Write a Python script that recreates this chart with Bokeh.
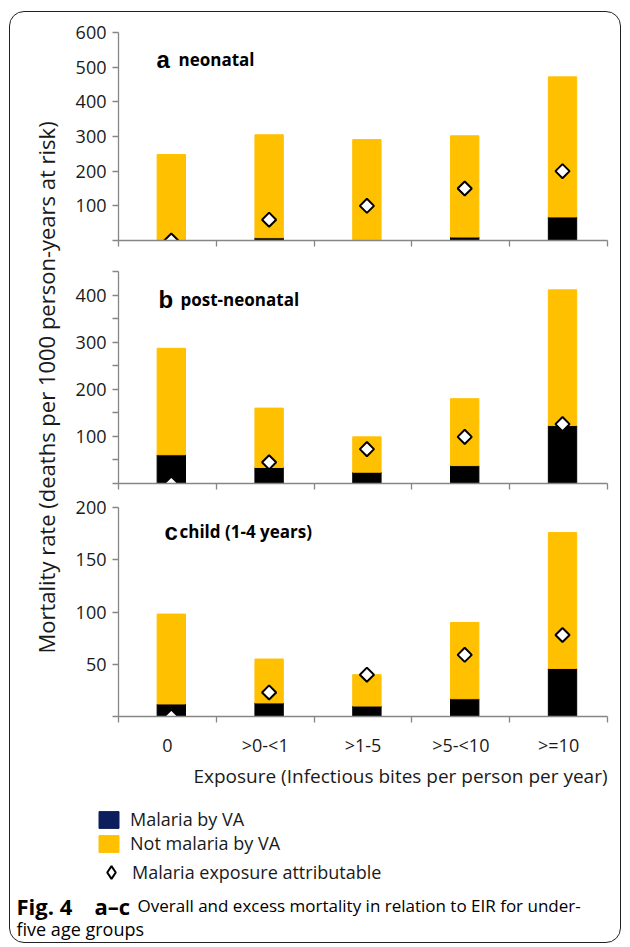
import math
from bokeh.plotting import figure
from bokeh.models import (Range1d, LinearAxis, FixedTicker, Label,
                          Legend, LegendItem, ColumnDataSource)
from bokeh.layouts import column, row
from bokeh.embed import file_html
from bokeh.resources import INLINE
from bokeh.transform import dodge

# ---------------- data ----------------
exposure = ["0", ">0-<1", ">1-5", ">5-<10", ">=10"]

neonatal_malaria = [0, 8, 0, 10, 68]
neonatal_not_malaria = [248, 297, 291, 292, 404]
neonatal_attributable = [0, 60, 100, 150, 200]

post_malaria = [61, 34, 24, 38, 123]
post_not_malaria = [226, 126, 75, 142, 288]
post_attributable = [0, 45, 73, 99, 126]

child_malaria = [12, 13, 10, 17, 46]
child_not_malaria = [86, 42, 30, 73, 130]
child_attributable = [0, 23, 40, 59, 78]

ticks_a = [0, 100, 200, 300, 400, 500, 600]
labels_a = [100, 200, 300, 400, 500, 600]
ticks_b = [0, 50, 100, 150, 200, 250, 300, 350, 400, 450]
labels_b = [100, 200, 300, 400]
ticks_c = [0, 50, 100, 150, 200]
labels_c = [50, 100, 150, 200]

legend_labels = ["Malaria by VA", "Not malaria by VA", "Malaria exposure attributable"]

# ---------------- style ----------------
FONT = "Open Sans"
AXIS_GREY = "#868686"
TEXT = "#1a1a1a"
YELLOW = "#FFC000"
BLACK = "#000000"
NAVY = "#0C1F5C"
PANEL_W = 556

n_cat = len(exposure)
slot_centers = [i + 0.5 for i in range(n_cat)]      # category slot centres
slot_bounds = list(range(n_cat + 1))                # category slot boundaries


def base_fig(**kw):
    return figure(output_backend="svg", toolbar_location=None,
                  outline_line_color=None, background_fill_alpha=0,
                  border_fill_alpha=0, **kw)


def make_panel(letter, name, malaria, not_malaria, attributable, ymax,
               ticks, labelled, height, top, bottom, show_x_labels,
               letter_x, name_x, label_y):
    p = base_fig(width=PANEL_W, height=height,
                 x_range=Range1d(0, n_cat), y_range=Range1d(0, ymax),
                 x_axis_type=None, y_axis_type=None,
                 min_border_left=54, min_border_right=13,
                 min_border_top=top, min_border_bottom=bottom)
    xaxis = LinearAxis(
        ticker=FixedTicker(ticks=slot_centers if show_x_labels else [],
                           minor_ticks=slot_bounds),
        major_label_overrides={c: f for c, f in zip(slot_centers, exposure)},
        axis_line_color=AXIS_GREY, axis_line_width=1.3,
        major_tick_line_color=None, major_tick_out=0, major_tick_in=0,
        minor_tick_line_color=AXIS_GREY, minor_tick_out=6, minor_tick_in=0,
        minor_tick_line_width=1.3,
        major_label_text_font=FONT, major_label_text_font_size="18px",
        major_label_text_color=TEXT, major_label_standoff=10)
    p.add_layout(xaxis, "below")

    yaxis = LinearAxis(
        ticker=FixedTicker(ticks=ticks),
        major_label_overrides={t: "" for t in ticks if t not in labelled},
        axis_line_color=AXIS_GREY, axis_line_width=1.3,
        major_tick_line_color=AXIS_GREY, major_tick_out=6, major_tick_in=0,
        major_tick_line_width=1.3,
        minor_tick_line_color=None,
        major_label_text_font=FONT, major_label_text_font_size="18px",
        major_label_text_color=TEXT, major_label_standoff=6)
    p.add_layout(yaxis, "left")

    src = ColumnDataSource(dict(exposure=exposure, slot=slot_centers,
                                malaria=malaria, not_malaria=not_malaria,
                                attributable=attributable))
    xpos = dodge("slot", 0.04)
    p.vbar_stack(["malaria", "not_malaria"], x=xpos, width=0.29,
                 color=[BLACK, YELLOW], source=src)
    p.scatter(x=xpos, y="attributable", marker="square", angle=math.pi / 4,
              size=10, fill_color="white", line_color="black", line_width=2,
              source=src)

    p.add_layout(Label(x=letter_x, y=label_y, x_units="screen", y_units="screen",
                       text=letter, text_font="Liberation Sans",
                       text_font_style="bold", text_font_size="24px",
                       text_color="black", text_baseline="alphabetic"))
    p.add_layout(Label(x=name_x, y=label_y, x_units="screen", y_units="screen",
                       text=name, text_font=FONT, text_font_style="bold",
                       text_font_size="17px", text_color="black",
                       text_baseline="alphabetic"))
    return p


pa = make_panel("a", "neonatal", neonatal_malaria, neonatal_not_malaria,
                neonatal_attributable, 600, ticks_a, labels_a,
                height=243, top=20, bottom=15, show_x_labels=False,
                letter_x=38, name_x=60, label_y=181)
pb = make_panel("b", "post-neonatal", post_malaria, post_not_malaria,
                post_attributable, 450, ticks_b, labels_b,
                height=240, top=16, bottom=12, show_x_labels=False,
                letter_x=40, name_x=62, label_y=184)
pc = make_panel("c", "child (1-4 years)", child_malaria, child_not_malaria,
                child_attributable, 200, ticks_c, labels_c,
                height=264, top=12, bottom=42, show_x_labels=True,
                letter_x=46, name_x=61, label_y=185)

# y-axis title column
yt = base_fig(width=54, height=747, x_range=Range1d(0, 1), y_range=Range1d(0, 1),
              x_axis_type=None, y_axis_type=None, min_border=0)
yt.add_layout(Label(x=35, y=372, x_units="screen", y_units="screen",
                    text="Mortality rate (deaths per 1000 person-years at risk)",
                    angle=math.pi / 2, text_align="center", text_baseline="middle",
                    text_font=FONT, text_font_size="22px", text_color=TEXT))

# x-axis title, legend and caption
lg = base_fig(width=610, height=183, x_range=Range1d(0, 1), y_range=Range1d(0, 1),
              x_axis_type=None, y_axis_type=None, min_border=0)
lg.add_layout(Label(x=390, y=167, x_units="screen", y_units="screen",
                    text="Exposure (Infectious bites per person per year)",
                    text_align="center", text_baseline="middle",
                    text_font=FONT, text_font_size="19px", text_color=TEXT))

r_mal = lg.vbar(x=[0], top=[1], width=1, fill_color=NAVY, line_color=NAVY, visible=False)
r_not = lg.vbar(x=[0], top=[1], width=1, fill_color=YELLOW, line_color=YELLOW, visible=False)
r_att = lg.scatter(x=[0], y=[0], marker="diamond", size=13,
                   fill_color="white", line_color="black", line_width=2, visible=False)

legend_style = dict(padding=0, margin=0, spacing=0, label_height=21,
                    border_line_color=None, background_fill_alpha=0,
                    inactive_fill_alpha=0, label_text_font=FONT,
                    label_text_font_size="18px", label_text_color=TEXT)
legend_bars = Legend(items=[LegendItem(label=lab, renderers=[r])
                            for lab, r in zip(legend_labels[:2], [r_mal, r_not])],
                     location=(86, 87), glyph_width=25, glyph_height=21,
                     label_standoff=9, **legend_style)
legend_marker = Legend(items=[LegendItem(label=legend_labels[2], renderers=[r_att])],
                       location=(85, 54), glyph_width=32, glyph_height=32,
                       label_standoff=5, **legend_style)
lg.add_layout(legend_bars, "center")
lg.add_layout(legend_marker, "center")

lg.add_layout(Label(x=6, y=37, x_units="screen", y_units="screen",
                    text="Fig. 4", text_font=FONT, text_font_style="bold",
                    text_font_size="22px", text_color="black",
                    text_baseline="alphabetic"))
lg.add_layout(Label(x=84, y=37, x_units="screen", y_units="screen",
                    text="a\u2013c", text_font=FONT, text_font_style="bold",
                    text_font_size="22px", text_color="black",
                    text_baseline="alphabetic"))
lg.add_layout(Label(x=127, y=37, x_units="screen", y_units="screen",
                    text="Overall and excess mortality in relation to EIR for under-",
                    text_font=FONT, text_font_size="17px", text_color="black",
                    text_baseline="alphabetic"))
lg.add_layout(Label(x=6, y=14, x_units="screen", y_units="screen",
                    text="five age groups",
                    text_font=FONT, text_font_size="18px", text_color="black",
                    text_baseline="alphabetic"))

page = column(row(yt, column(pa, pb, pc)), lg, margin=(11, 0, 0, 9),
              styles={"border": "1px solid #222", "border-radius": "15px"})

open("out.html", "w").write(file_html(page, INLINE))
